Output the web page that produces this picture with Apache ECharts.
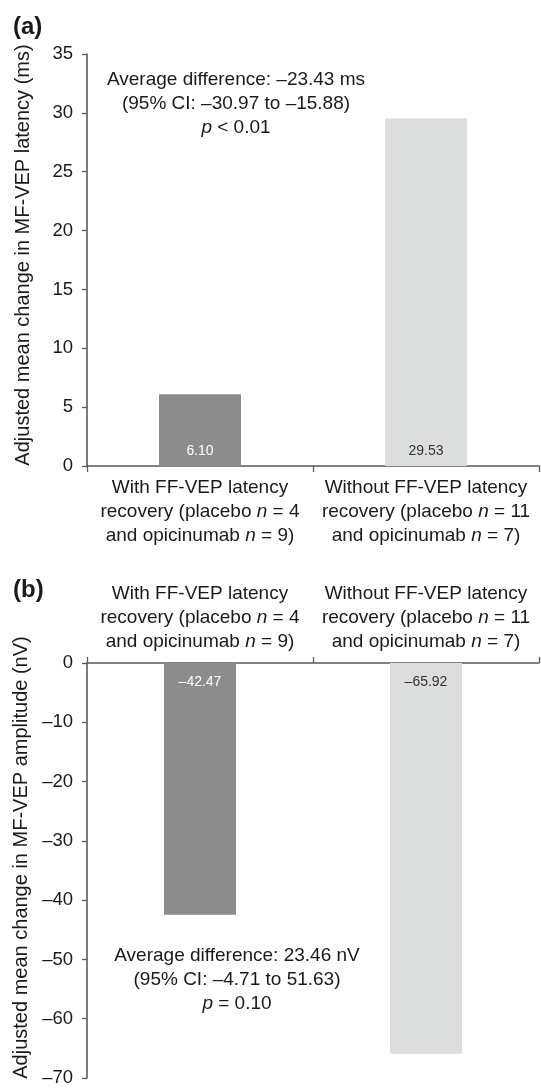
<!DOCTYPE html>
<html><head><meta charset="utf-8">
<script src="https://cdn.jsdelivr.net/npm/echarts@6/dist/echarts.min.js"></script>
<style>html,body{margin:0;padding:0;background:#fff}#c{width:541px;height:1090px}</style>
</head><body><div id="c"></div>
<script>
// ---- data ----
const categories = [
  'With FF-VEP latency\nrecovery (placebo n = 4\nand opicinumab n = 9)',
  'Without FF-VEP latency\nrecovery (placebo n = 11\nand opicinumab n = 7)'
];
const latencyValues = [6.10, 29.53];
const amplitudeValues = [-42.47, -65.92];
const latencyTicks = [0, 5, 10, 15, 20, 25, 30, 35];
const amplitudeTicks = [-70, -60, -50, -40, -30, -20, -10, 0];
const latencyAxisName = 'Adjusted mean change in MF-VEP latency (ms)';
const amplitudeAxisName = 'Adjusted mean change in MF-VEP amplitude (nV)';
const latencyNote = ['Average difference: \u201323.43 ms', '(95% CI: \u201330.97 to \u201315.88)', '{i|p} < 0.01'];
const amplitudeNote = ['Average difference: 23.46 nV', '(95% CI: \u20134.71 to 51.63)', '{i|p} = 0.10'];
const panelLabels = ['(a)', '(b)'];

// ---- style ----
const FONT = '"Liberation Sans", Arial, Helvetica, sans-serif';
const TXT = '#1a1a1a';
const AXIS = '#5a5a5a';
const FS = 19;
const barColors = ['#8c8c8c', '#dcdddd'];
const barLabelColors = ['#ffffff', '#333333'];
const dash = s => String(s).replace(/-/g, '\u2013');

function catFormatter(v) { return v.replace(/ n = /g, ' {i|n} = '); }
const catLabel = {
  interval: 0, fontSize: FS, lineHeight: 24, color: TXT, fontFamily: FONT,
  formatter: catFormatter,
  rich: { i: { fontStyle: 'italic', fontSize: FS, lineHeight: 24, color: TXT, fontFamily: FONT } }
};
const axisLine = { show: true, onZero: false, lineStyle: { color: AXIS, width: 1.6 } };
const axisTick = { show: true, length: 6, lineStyle: { color: AXIS, width: 1.3 } };

function valueAxis(grid, ticks, name, shift) {
  const step = ticks[1] - ticks[0];
  return {
    type: 'value', gridIndex: grid,
    min: ticks[0], max: ticks[ticks.length - 1], interval: step,
    name: name, nameLocation: 'middle', nameGap: 54,
    nameTextStyle: { fontSize: 20, color: TXT, fontFamily: FONT, padding: [0, 0, 0, shift] },
    axisLine: axisLine, axisTick: { show: true, length: 5, lineStyle: { color: AXIS, width: 1.3 } },
    splitLine: { show: false },
    axisLabel: { margin: 14, fontSize: 18.5, color: TXT, fontFamily: FONT, formatter: v => dash(v) }
  };
}

function barData(vals) {
  return vals.map((v, i) => ({ value: v, itemStyle: { color: barColors[i] }, label: { color: barLabelColors[i] } }));
}

const noteRich = { i: { fontStyle: 'italic', fontSize: FS, lineHeight: 24, fill: TXT, fontFamily: FONT } };

const option = {
  animation: false,
  backgroundColor: '#fff',
  grid: [
    { left: 87, right: 2, top: 54, height: 412, containLabel: false, outerBoundsMode: 'none' },
    { left: 87, right: 2, top: 663, height: 415, containLabel: false, outerBoundsMode: 'none' }
  ],
  xAxis: [
    { type: 'category', gridIndex: 0, data: categories, axisLine: axisLine, axisTick: axisTick,
      axisLabel: Object.assign({ margin: 10 }, catLabel) },
    { type: 'category', gridIndex: 1, position: 'top', data: categories, axisLine: axisLine, axisTick: axisTick,
      axisLabel: Object.assign({ margin: 9 }, catLabel) }
  ],
  yAxis: [
    valueAxis(0, latencyTicks, latencyAxisName, 10),
    valueAxis(1, amplitudeTicks, amplitudeAxisName, 26)
  ],
  series: [
    { type: 'bar', xAxisIndex: 0, yAxisIndex: 0, barWidth: 82, data: barData(latencyValues),
      label: { show: true, position: 'insideBottom', distance: 8, fontSize: 14, fontFamily: FONT,
        formatter: p => dash(p.value.toFixed(2)) } },
    { type: 'bar', xAxisIndex: 1, yAxisIndex: 1, barWidth: 72, data: barData(amplitudeValues),
      label: { show: true, position: 'insideTop', distance: 12, fontSize: 14, fontFamily: FONT,
        formatter: p => dash(p.value.toFixed(2)) } }
  ],
  graphic: [
    { type: 'text', x: 13, y: 27, style: { text: panelLabels[0], fontSize: 24, fontWeight: 'bold', fontFamily: FONT, fill: TXT, verticalAlign: 'middle' } },
    { type: 'text', x: 13, y: 590, style: { text: panelLabels[1], fontSize: 24, fontWeight: 'bold', fontFamily: FONT, fill: TXT, verticalAlign: 'middle' } },
    { type: 'text', x: 236, y: 104, style: { text: latencyNote.join('\n'), align: 'center', verticalAlign: 'middle', fontSize: FS, lineHeight: 24, fontFamily: FONT, fill: TXT, rich: noteRich } },
    { type: 'text', x: 237, y: 980, style: { text: amplitudeNote.join('\n'), align: 'center', verticalAlign: 'middle', fontSize: FS, lineHeight: 24, fontFamily: FONT, fill: TXT, rich: noteRich } }
  ]
};

const chart = echarts.init(document.getElementById('c'), null, { renderer: 'canvas' });
chart.setOption(option);
</script>
</body></html>
